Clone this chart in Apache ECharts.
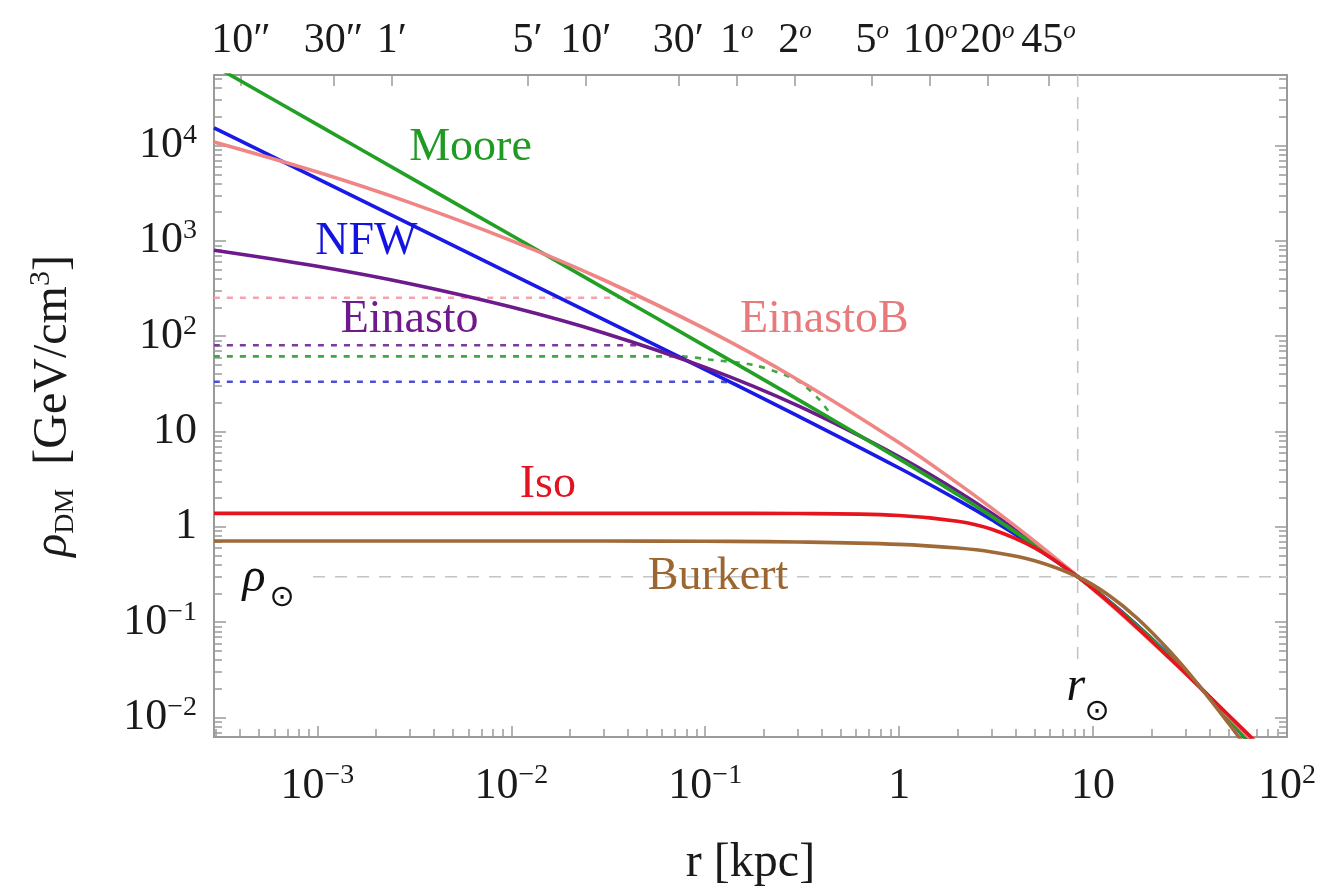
<!DOCTYPE html>
<html><head><meta charset="utf-8">
<script src="https://cdn.jsdelivr.net/npm/echarts@6/dist/echarts.min.js"></script>
<style>html,body{margin:0;padding:0;background:#fff}#c{width:1325px;height:894px}</style>
</head><body><div id="c"></div>
<script>
// ---------------- data ----------------
const radii    = [2.93e-4, 1e-3, 3e-3, 1e-2, 3e-2, 0.1, 0.3, 1, 2, 3, 5, 8.33, 12, 17, 25, 35, 50, 70, 100];
const nfw      = [15336, 4493, 1497, 448.9, 149.4, 44.57, 14.62, 4.147, 1.919, 1.188, 0.6192, 0.300, 0.1683, 0.09187, 0.04388, 0.02168, 0.009676, 0.004294, 0.00173];
const moore    = [68800, 16570, 4633, 1146, 320.0, 78.82, 21.78, 5.169, 2.183, 1.289, 0.6402, 0.300, 0.1663, 0.09036, 0.04332, 0.02160, 0.009758, 0.004386, 0.001792];
const einasto  = [798.9, 542.0, 355.4, 202.3, 108.3, 47.07, 18.67, 5.443, 2.367, 1.387, 0.6695, 0.3028, 0.1643, 0.0884, 0.04259, 0.02163, 0.01010, 0.004711, 0.0020];
const einastoB = [10908, 5278, 2523, 1007, 389.0, 119.2, 35.0, 7.62, 2.879, 1.573, 0.7055, 0.3025, 0.1602, 0.08525, 0.0412, 0.02129, 0.01029, 0.005046, 0.002303];
const iso      = [1.387, 1.387, 1.387, 1.387, 1.387, 1.3863, 1.3805, 1.3183, 1.1477, 0.9441, 0.6022, 0.3004, 0.1631, 0.08634, 0.04131, 0.02139, 0.01056, 0.005409, 0.002656];
const burkert  = [0.7120, 0.7119, 0.7118, 0.7114, 0.7103, 0.7064, 0.6951, 0.6558, 0.6000, 0.5451, 0.4417, 0.2999, 0.1928, 0.1086, 0.04894, 0.02193, 0.008685, 0.003462, 0.001265];

// smoothed (dashed) profiles
const dashEinastoBR = [2.93e-4, 0.047];
const dashEinastoB  = [253, 253];
const dashEinastoR  = [2.93e-4, 0.0476];
const dashEinasto   = [80.3, 80.3];
const dashMooreR    = [2.93e-4, 0.075, 0.105, 0.176, 0.256, 0.313, 0.389, 0.43];
const dashMoore     = [61.5, 61.5, 57, 50, 39.4, 32.2, 21.5, 16.5];
const dashNfwR      = [2.93e-4, 0.12, 0.14, 0.16];
const dashNfw       = [33.3, 33.3, 32, 28];

const R_SUN = 8.33, RHO_SUN = 0.3;
const refHorizR = [9.5e-4, 100];
const refVertRho = [5.5e4, 0.04];

// tick labels
const xMajorTicks  = [1e-3, 1e-2, 1e-1, 1, 10, 100];
const xMajorLabels = ['10{s|\u22123}', '10{s|\u22122}', '10{s|\u22121}', '1', '10', '10{s|2}'];
const yMajorTicks  = [1e-2, 1e-1, 1, 10, 100, 1e3, 1e4];
const yMajorLabels = ['10{s|\u22122}', '10{s|\u22121}', '1', '10', '10{s|2}', '10{s|3}', '10{s|4}'];
const angleDeg     = [10/3600, 30/3600, 1/60, 5/60, 10/60, 30/60, 1, 2, 5, 10, 20, 45];
const angleLabels  = ['10\u2033', '30\u2033', '1\u2032', '5\u2032', '10\u2032', '30\u2032', '1{o|o}', '2{o|o}', '5{o|o}', '10{o|o}', '20{o|o}', '45{o|o}'];

// in-plot text annotations
const noteText = ['Moore', 'NFW', 'Einasto', 'EinastoB', 'Iso', 'Burkert', '\u03c1', '\u2299', 'r', '\u2299'];
const noteR    = [6.16e-3, 1.79e-3, 2.99e-3, 0.411, 0.01542, 0.1164, 4.71e-4, 6.58e-4, 8.15, 10.48];
const noteRho  = [9480, 978, 149, 149, 2.76, 0.2987, 0.285, 0.180, 0.0205, 0.01145];

// ---------------- layout / style ----------------
const XMIN = 2.93e-4, XMAX = 100, YMIN = 6.25e-3, YMAX = 5.5e4;
const FONT = '"Liberation Serif", "Times New Roman", serif';
const TXT = '#1a1a1a';
const FRAME = '#9a9a9a';
const lg = Math.log10;

const noteStyle = [
  {color: '#1f9a22', size: 46}, {color: '#1414e0', size: 46}, {color: '#6e1a8c', size: 46},
  {color: '#e97a7c', size: 46}, {color: '#e2141f', size: 46}, {color: '#9c6630', size: 46},
  {color: '#111', size: 48, italic: true}, {color: '#111', size: 30, sym: true},
  {color: '#111', size: 48, italic: true}, {color: '#111', size: 30, sym: true}
];

function minorTicks(lo, hi) {
  const out = [];
  for (let k = -5; k <= 5; k++) for (let m = 2; m <= 9; m++) {
    const v = m * Math.pow(10, k);
    if (v >= lo && v <= hi) out.push(lg(v));
  }
  return out;
}
const angleR = angleDeg.map(d => R_SUN * Math.sin(d * Math.PI / 180));

function fmt(vals, labels) {
  return v => { for (let i = 0; i < vals.length; i++) if (Math.abs(lg(vals[i]) - v) < 1e-6) return labels[i]; return ''; };
}
const supRich = {s: {fontSize: 28, lineHeight: 32, verticalAlign: 'top', fontFamily: FONT, color: TXT},
                 o: {fontSize: 25, lineHeight: 27, verticalAlign: 'top', fontStyle: 'italic', fontFamily: FONT, color: TXT}};

function decoAxis(extra) {
  const base = {
    type: 'value', splitLine: {show: false},
    axisTick: {show: false}, axisLabel: {show: false}
  };
  const a = Object.assign(base, extra);
  a.axisLine = Object.assign({show: false}, extra.axisLine || {}, {onZero: false});
  return a;
}
const XL = [lg(XMIN), lg(XMAX)], YL = [lg(YMIN), lg(YMAX)];
const tickStyle = {color: FRAME, width: 1.5};
const lineFrame = {show: true, lineStyle: {color: FRAME, width: 2}};

const xAxes = [
  {type: 'log', min: XMIN, max: XMAX, show: false},
  decoAxis({min: XL[0], max: XL[1], position: 'bottom', axisLine: lineFrame,
    axisTick: {show: true, inside: true, length: 11, lineStyle: tickStyle, customValues: xMajorTicks.map(lg)},
    axisLabel: {show: true, customValues: xMajorTicks.map(lg), formatter: fmt(xMajorTicks, xMajorLabels),
      fontSize: 44, lineHeight: 48, fontFamily: FONT, color: TXT, margin: 25, hideOverlap: false, rich: supRich},
    name: 'r [kpc]', nameLocation: 'middle', nameGap: 102,
    nameTextStyle: {fontSize: 48, fontFamily: FONT, color: TXT}}),
  decoAxis({min: XL[0], max: XL[1], position: 'bottom',
    axisTick: {show: true, inside: true, length: 8, lineStyle: tickStyle, customValues: minorTicks(XMIN, XMAX)}}),
  decoAxis({min: XL[0], max: XL[1], position: 'top', axisLine: lineFrame,
    axisTick: {show: true, inside: true, length: 11, lineStyle: tickStyle, customValues: angleR.map(lg)},
    axisLabel: {show: true, customValues: angleR.map(lg), formatter: fmt(angleR, angleLabels),
      fontSize: 42, lineHeight: 44, fontFamily: FONT, color: TXT, margin: 12, hideOverlap: false, rich: supRich}})
];
const yAxes = [
  {type: 'log', min: YMIN, max: YMAX, show: false},
  decoAxis({min: YL[0], max: YL[1], position: 'left', axisLine: lineFrame,
    axisTick: {show: true, inside: true, length: 12, lineStyle: tickStyle, customValues: yMajorTicks.map(lg)},
    axisLabel: {show: true, customValues: yMajorTicks.map(lg), formatter: fmt(yMajorTicks, yMajorLabels),
      fontSize: 44, lineHeight: 48, fontFamily: FONT, color: TXT, margin: 17, hideOverlap: false, rich: supRich},
    name: '{it|\u03c1}{sub|DM}  [GeV/cm{sup|3}]', nameLocation: 'middle', nameGap: 134, nameRotate: 90,
    nameTextStyle: {fontSize: 48, lineHeight: 54, fontFamily: FONT, color: TXT,
      rich: {it: {fontSize: 48, lineHeight: 54, fontStyle: 'italic', fontFamily: FONT, color: TXT},
             sub: {fontSize: 28, lineHeight: 28, verticalAlign: 'bottom', fontFamily: FONT, color: TXT},
             sup: {fontSize: 30, lineHeight: 24, verticalAlign: 'top', fontFamily: FONT, color: TXT}}}}),
  decoAxis({min: YL[0], max: YL[1], position: 'left',
    axisTick: {show: true, inside: true, length: 8, lineStyle: tickStyle, customValues: minorTicks(YMIN, YMAX)}}),
  decoAxis({min: YL[0], max: YL[1], position: 'right', axisLine: lineFrame,
    axisTick: {show: true, inside: true, length: 12, lineStyle: tickStyle, customValues: yMajorTicks.map(lg)}}),
  decoAxis({min: YL[0], max: YL[1], position: 'right',
    axisTick: {show: true, inside: true, length: 8, lineStyle: tickStyle, customValues: minorTicks(YMIN, YMAX)}})
];

function pairs(xs, ys) { return xs.map((x, i) => [x, ys[i]]); }
function curve(name, ys, color, z) {
  return {type: 'line', name, xAxisIndex: 0, yAxisIndex: 0, data: pairs(radii, ys), showSymbol: false,
    smooth: 0.4, lineStyle: {color, width: 3.6}, z, silent: true};
}
function dashed(xs, ys, color) {
  return {type: 'line', xAxisIndex: 0, yAxisIndex: 0, data: pairs(xs, ys), showSymbol: false,
    smooth: 0.3, lineStyle: {color, width: 2.6, type: [6, 7]}, z: 2, silent: true};
}
const refStyle = {color: '#c4c4c4', width: 1.6, type: [12, 10]};

const series = [
  {type: 'line', xAxisIndex: 0, yAxisIndex: 0, data: pairs(refHorizR, [RHO_SUN, RHO_SUN]), showSymbol: false, lineStyle: refStyle, z: 1, silent: true},
  {type: 'line', xAxisIndex: 0, yAxisIndex: 0, data: pairs([R_SUN, R_SUN], refVertRho), showSymbol: false, lineStyle: refStyle, z: 1, silent: true},
  dashed(dashEinastoBR, dashEinastoB, '#f3a3ad'),
  dashed(dashEinastoR, dashEinasto, '#7d3a9c'),
  dashed(dashMooreR, dashMoore, '#3fa83f'),
  dashed(dashNfwR, dashNfw, '#4f4fd6'),
  curve('NFW', nfw, '#1a1ae6', 3),
  curve('Einasto', einasto, '#6c1a8c', 4),
  curve('Moore', moore, '#22a024', 5),
  curve('EinastoB', einastoB, '#ef8585', 6),
  curve('Iso', iso, '#e6141f', 7),
  curve('Burkert', burkert, '#a06a38', 8),
  {type: 'scatter', xAxisIndex: 0, yAxisIndex: 0, symbolSize: 0, silent: true, z: 20,
    itemStyle: {opacity: 1},
    data: noteText.map((t, i) => ({value: [noteR[i], noteRho[i]],
      label: {show: true, position: 'inside', formatter: t, color: noteStyle[i].color, fontSize: noteStyle[i].size,
        fontFamily: noteStyle[i].sym ? '"DejaVu Sans", sans-serif' : FONT,
        fontStyle: noteStyle[i].italic ? 'italic' : 'normal'}}))}
];

const chart = echarts.init(document.getElementById('c'), null, {renderer: 'canvas'});
chart.setOption({
  animation: false,
  backgroundColor: '#ffffff',
  grid: {left: 214, right: 38, top: 75, bottom: 157, containLabel: false, outerBoundsMode: 'none'},
  xAxis: xAxes,
  yAxis: yAxes,
  series
});
</script></body></html>
